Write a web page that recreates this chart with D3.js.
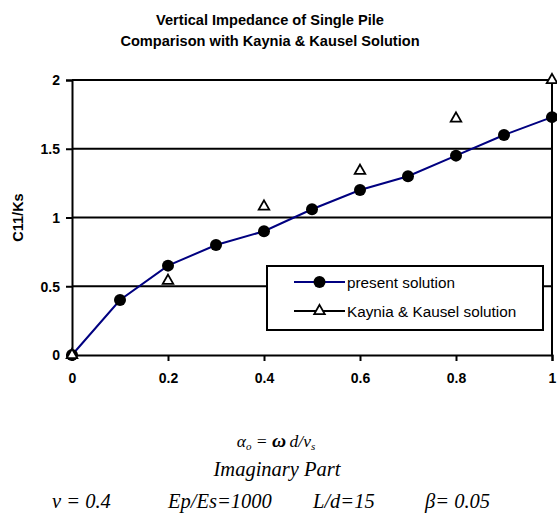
<!DOCTYPE html>
<html>
<head>
<meta charset="utf-8">
<script src="https://cdn.jsdelivr.net/npm/d3@7"></script>
<style>
  html, body { margin: 0; padding: 0; background: #fff; }
  svg { display: block; }
</style>
</head>
<body>
<svg id="chart" width="557" height="514"></svg>
<script>
// Frequency ratio a0 and dimensionless damping coefficient C11/Ks
const presentX = [0, 0.1, 0.2, 0.3, 0.4, 0.5, 0.6, 0.7, 0.8, 0.9, 1.0];
const presentY = [0, 0.40, 0.65, 0.80, 0.90, 1.06, 1.20, 1.30, 1.45, 1.60, 1.73];
const kayniaX = [0, 0.2, 0.4, 0.6, 0.8, 1.0];
const kayniaY = [0, 0.54, 1.08, 1.34, 1.72, 2.0];
const xTicks = [0, 0.2, 0.4, 0.6, 0.8, 1];
const yTicks = [0, 0.5, 1, 1.5, 2];
const titleLines = ["Vertical Impedance of Single Pile", "Comparison with Kaynia & Kausel Solution"];
const legendLabels = ["present solution", "Kaynia & Kausel solution"];

const svg = d3.select("#chart");
const plotL = 72, plotR = 552, plotT = 80, plotB = 355;
const sans = "Arial, 'Liberation Sans', sans-serif";

const x = d3.scaleLinear().domain([0, 1]).range([plotL, plotR]);
const y = d3.scaleLinear().domain([0, 2]).range([plotB, plotT]);

// Title
svg.append("g").selectAll("text").data(titleLines).join("text")
  .attr("x", 270).attr("y", (d, i) => 25 + i * 21)
  .attr("text-anchor", "middle")
  .style("font-family", sans)
  .style("font-weight", "bold").style("font-size", "14.6px")
  .text(d => d);

// Horizontal gridlines
svg.append("g").selectAll("line").data(yTicks.filter(v => v > 0)).join("line")
  .attr("x1", plotL).attr("x2", plotR)
  .attr("y1", d => y(d)).attr("y2", d => y(d))
  .attr("stroke", "#000").attr("stroke-width", 2);

// Right border of plot area
svg.append("line")
  .attr("x1", plotR).attr("x2", plotR).attr("y1", plotT).attr("y2", plotB)
  .attr("stroke", "#000").attr("stroke-width", 2);

// Axes
const xAxis = svg.append("g").attr("transform", `translate(0,${plotB})`)
  .call(d3.axisBottom(x).tickValues(xTicks).tickFormat(d3.format("")).tickSize(6).tickPadding(12));
const yAxis = svg.append("g").attr("transform", `translate(${plotL},0)`)
  .call(d3.axisLeft(y).tickValues(yTicks).tickFormat(d3.format("")).tickSize(6).tickPadding(6));
[xAxis, yAxis].forEach(a => {
  a.attr("font-family", sans).attr("font-size", 14).attr("font-weight", "bold");
  a.selectAll("path.domain").attr("stroke", "#000").attr("stroke-width", 2);
  a.selectAll(".tick line").attr("stroke", "#000").attr("stroke-width", 2);
  a.selectAll(".tick text").attr("fill", "#000");
});
yAxis.selectAll(".tick text").attr("dy", "0.35em");

// Y axis title
svg.append("text")
  .attr("transform", `translate(23,${(plotT + plotB) / 2}) rotate(-90)`)
  .attr("text-anchor", "middle")
  .style("font-family", sans)
  .style("font-weight", "bold").style("font-size", "14.5px")
  .text("C11/Ks");

// Present solution: line with filled circles
const present = presentX.map((v, i) => [v, presentY[i]]);
svg.append("path").datum(present)
  .attr("fill", "none").attr("stroke", "#000080").attr("stroke-width", 2)
  .attr("d", d3.line().x(d => x(d[0])).y(d => y(d[1])));
svg.append("g").selectAll("circle").data(present).join("circle")
  .attr("cx", d => x(d[0])).attr("cy", d => y(d[1])).attr("r", 6)
  .attr("fill", "#000");

// Kaynia & Kausel: open triangles
const tri = d3.symbol().type(d3.symbolTriangle).size(48);
const kaynia = kayniaX.map((v, i) => [v, kayniaY[i]]);
svg.append("g").selectAll("path").data(kaynia).join("path")
  .attr("transform", d => `translate(${x(d[0])},${y(d[1])})`)
  .attr("d", tri)
  .attr("fill", "#fff").attr("stroke", "#000").attr("stroke-width", 1.8);

// Legend
const lg = svg.append("g");
lg.append("rect").attr("x", 267).attr("y", 266).attr("width", 276).attr("height", 64)
  .attr("fill", "#fff").attr("stroke", "#000").attr("stroke-width", 2);
const legendRows = [
  { label: legendLabels[0], color: "#000080", marker: "circle", yy: 282 },
  { label: legendLabels[1], color: "#000", marker: "triangle", yy: 311 }
];
legendRows.forEach(r => {
  lg.append("line").attr("x1", 294).attr("x2", 345).attr("y1", r.yy).attr("y2", r.yy)
    .attr("stroke", r.color).attr("stroke-width", 2);
  if (r.marker === "circle") {
    lg.append("circle").attr("cx", 319.5).attr("cy", r.yy).attr("r", 6).attr("fill", "#000");
  } else {
    lg.append("path").attr("transform", `translate(319.5,${r.yy})`).attr("d", tri)
      .attr("fill", "#fff").attr("stroke", "#000").attr("stroke-width", 1.8);
  }
  lg.append("text").attr("x", 347).attr("y", r.yy + 5.5)
    .style("font-family", sans).style("font-size", "15.3px")
    .text(r.label);
});

// Annotation below the chart (serif italic)
const serif = "'Liberation Serif', 'Times New Roman', serif";
const a0 = svg.append("text").attr("x", 276).attr("y", 447).attr("text-anchor", "middle")
  .style("font-family", serif).style("font-style", "italic").style("font-size", "17.5px");
a0.append("tspan").text("α");
a0.append("tspan").attr("dy", 3).style("font-size", "11px").text("o");
a0.append("tspan").attr("dy", -3).text(" = ");
a0.append("tspan").style("font-size", "19.5px").style("font-weight", "bold").text("ω");
a0.append("tspan").text("\u2009d/v");
a0.append("tspan").attr("dy", 3).style("font-size", "11px").text("s");

svg.append("text").attr("x", 277).attr("y", 476).attr("text-anchor", "middle")
  .style("font-family", serif).style("font-style", "italic").style("font-size", "20.5px")
  .text("Imaginary Part");

const params = [["ν = 0.4", 52], ["Ep/Es=1000", 168], ["L/d=15", 313], ["β= 0.05", 425]];
svg.append("g").selectAll("text").data(params).join("text")
  .attr("x", d => d[1]).attr("y", 508)
  .style("font-family", serif).style("font-style", "italic").style("font-size", "20.5px")
  .text(d => d[0]);
</script>
</body>
</html>
